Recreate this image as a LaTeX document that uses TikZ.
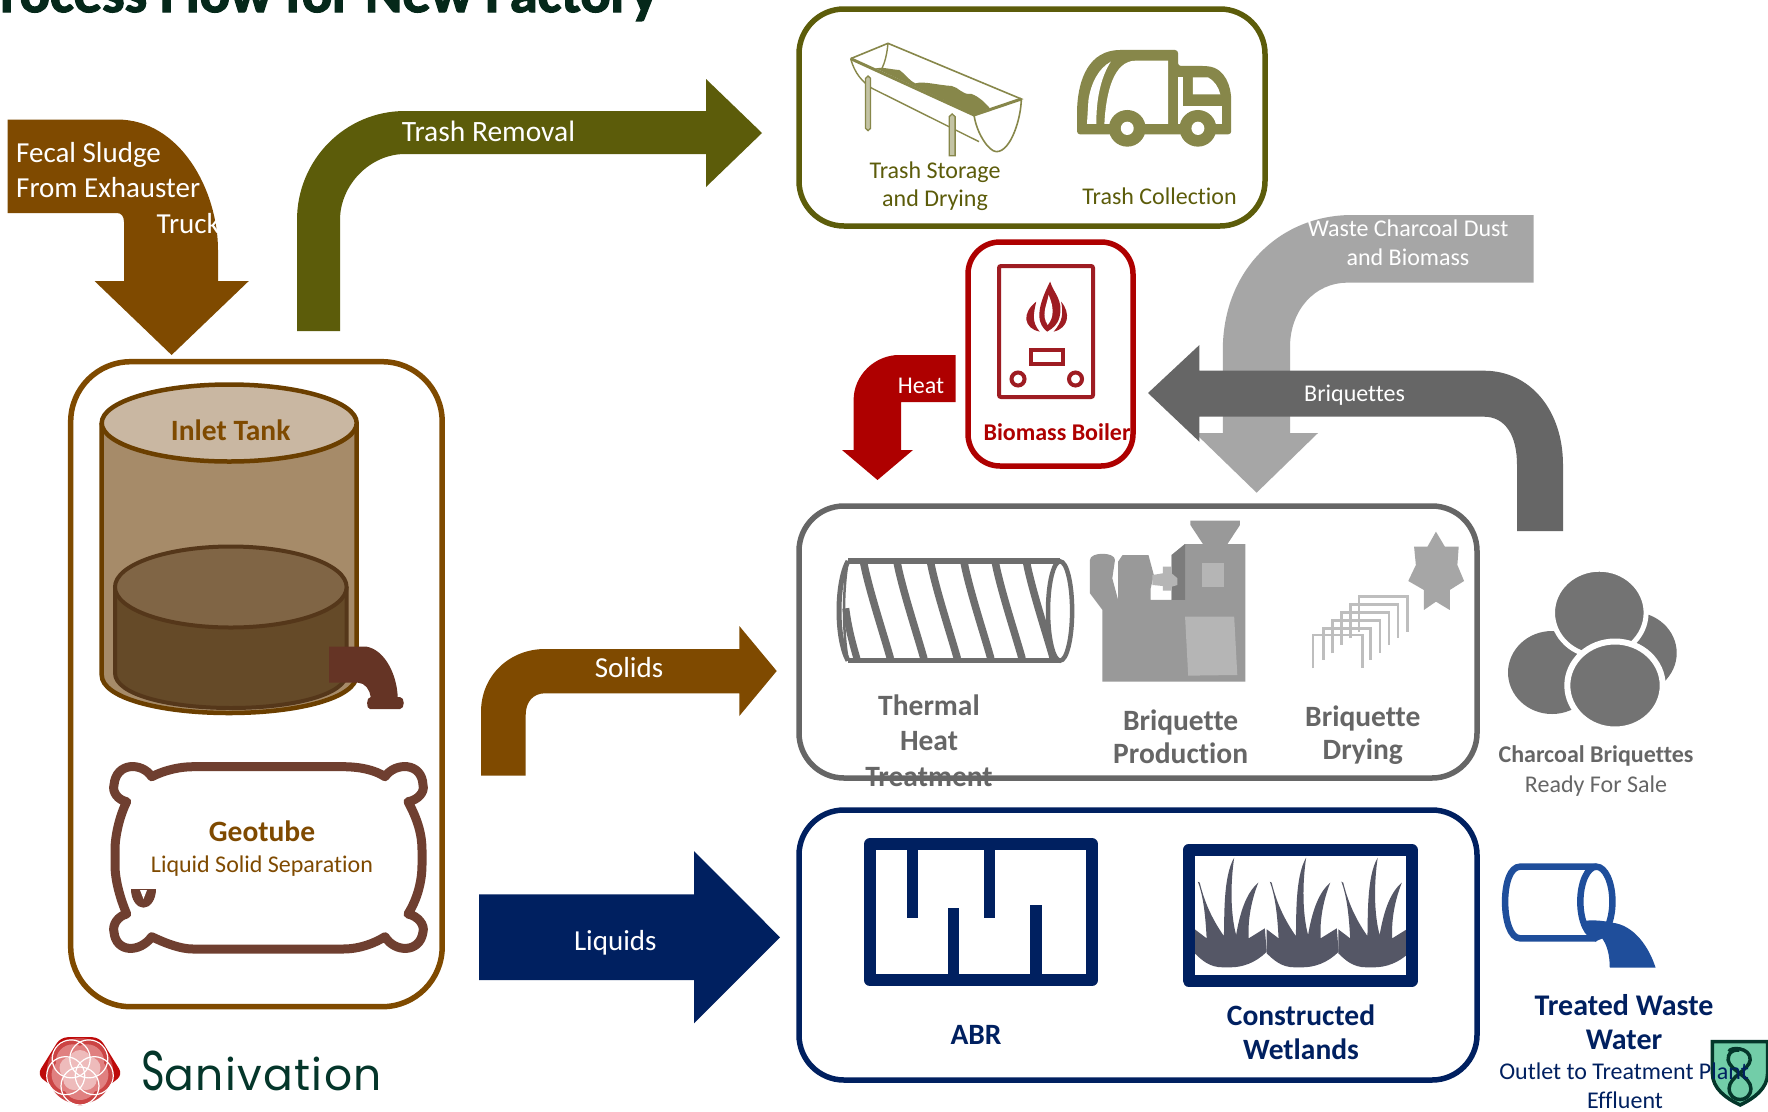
\documentclass[tikz,border=0pt]{standalone}
\usepackage{fontspec}
\setmainfont{Carlito}[Ligatures=NoCommon]
\newfontfamily\logofont{Poppins}
\newfontfamily\titlefont{Carlito Bold}[Ligatures=NoCommon,FakeBold=2.2]
\definecolor{brownA}{HTML}{7F4A00}
\definecolor{oliveA}{HTML}{5C5C0A}
\definecolor{oliveB}{HTML}{87874A}
\definecolor{redA}{HTML}{AE0000}
\definecolor{redB}{HTML}{9E1C22}
\definecolor{grayL}{HTML}{A6A6A6}
\definecolor{grayD}{HTML}{666666}
\definecolor{grayS}{HTML}{6E6E6E}
\definecolor{grayM}{HTML}{999999}
\definecolor{grayK}{HTML}{B5B5B5}
\definecolor{grayC}{HTML}{737373}
\definecolor{navyA}{HTML}{002060}
\definecolor{pipeB}{HTML}{1F4E9B}
\definecolor{darkG}{HTML}{04362A}
\definecolor{titleC}{HTML}{05281A}
\definecolor{pillowC}{HTML}{6F3F30}
\definecolor{tankBody}{HTML}{A68B69}
\definecolor{tankTop}{HTML}{C9B7A2}
\definecolor{tankLine}{HTML}{6B3F00}
\definecolor{mudTop}{HTML}{806545}
\definecolor{mudBody}{HTML}{654A28}
\definecolor{mudLine}{HTML}{55371A}
\definecolor{faucetC}{HTML}{653425}
\definecolor{grassC}{HTML}{555766}
\definecolor{shieldC}{HTML}{72CDA8}
\definecolor{flowA}{HTML}{BE0A0A}
\definecolor{flowB}{HTML}{CC4444}
\definecolor{flowC}{HTML}{E08080}
\definecolor{flowD}{HTML}{EEBBBB}
\tikzset{
 pbox/.style={draw,line width=5.5pt,rounded corners=#1,fill=none,inner sep=0pt,outer sep=0pt,anchor=north west},
 flowtxt/.style={text=white,font=\fontsize{29}{31}\selectfont,inner sep=0pt,anchor=center},
 smalltxt/.style={text=white,font=\fontsize{24}{26}\selectfont,inner sep=0pt,anchor=center},
 lbl/.style={inner sep=0pt,anchor=center,font=\fontsize{24}{26}\selectfont},
 blbl/.style={inner sep=0pt,anchor=center,font=\fontsize{29.5}{31}\selectfont\bfseries},
}
\begin{document}
\begin{tikzpicture}[x=1pt,y=-1pt]
\useasboundingbox (0,0) rectangle (1768,1111);
\fill[white] (0,0) rectangle (1768,1111);
% title
\node[anchor=base west,inner sep=0pt,text=titleC,font=\titlefont\fontsize{56.5}{58}\selectfont] (title) at (-30,12) {Process Flow for New Factory};
% fecal sludge arrow
\fill[brownA] (7.5,119.5) -- (117,119.5) .. controls (180,119.5) and (218,190) .. (218,250) -- (218,281) -- (248.8,281) -- (171.6,355) -- (94.5,281) -- (124,281) -- (124,222) .. controls (124,216) and (121,213) .. (117,213) -- (7.5,213) -- cycle;
\node[flowtxt,anchor=west] (fs1) at (16,155) {Fecal Sludge};
\node[flowtxt,anchor=west] (fs2) at (16,188) {From Exhauster};
\node[flowtxt,anchor=east] (fs3) at (220,224) {Truck};
% trash arrow
\fill[oliveA] (297,331) -- (297,220) .. controls (297,160) and (345,111) .. (405,111) -- (706,111) -- (706,79) -- (762,133) -- (706,187) -- (706,154) -- (405,154) .. controls (370,154) and (340,185) .. (340,220) -- (340,331) -- cycle;
\node[flowtxt,font=\fontsize{29.5}{31}\selectfont] (trashr) at (488.5,131) {Trash Removal};
% trash box
\node[pbox=45pt,draw=oliveA,minimum width=466pt,minimum height=217pt] (trashbox) at (799,9) {};
\begin{scope}[shift={(780,0)},x=0.4975pt,y=-0.3333pt]
 % trough
 \fill[oliveB] (192,205) .. controls (205,200) and (220,208) .. (240,210) .. controls (252,222) and (258,240) .. (272,250) .. controls (290,243) and (315,255) .. (345,258) .. controls (360,262) and (365,285) .. (385,282) .. controls (400,290) and (410,305) .. (422,325) -- (390,342) -- cycle;
 \draw[oliveB,line width=1.6pt] (142,176) -- (217,130) -- (485,297) -- (390,345);
 \draw[oliveB,line width=3pt] (142,176) -- (390,345) -- (485,297);
 \draw[oliveB,line width=1.4pt] (142,176) .. controls (150,220) and (165,245) .. (185,265);
 \draw[oliveB,line width=1.4pt] (185,265) -- (400,425);
 \draw[oliveB,line width=1.4pt] (217,130) .. controls (215,165) and (210,190) .. (205,205);
 \draw[oliveB,line width=1.6pt] (390,345) .. controls (395,400) and (420,455) .. (435,455) .. controls (465,455) and (485,350) .. (485,297);
 \draw[oliveB,line width=1.3pt,fill=oliveB!50] (172,235) -- (177,228) -- (182,235) -- (182,385) -- (177,392) -- (172,385) -- cycle;
 \draw[oliveB,line width=1.3pt,fill=oliveB!50] (340,350) -- (346,342) -- (352,350) -- (352,467) -- (340,467) -- cycle;
 % truck
 \fill[oliveB,rounded corners=3pt] (597,403) -- (597,330) .. controls (600,240) and (620,150) .. (690,150) -- (800,150) -- (800,198) -- (855,198) .. controls (895,205) and (907,260) .. (907,310) -- (907,403) -- cycle;
 \fill[white] (617,372) -- (620,300) .. controls (625,250) and (640,205) .. (665,185) .. controls (645,230) and (635,300) .. (636,372) -- cycle;
 \fill[white] (652,372) .. controls (655,280) and (670,182) .. (715,182) -- (780,182) -- (780,372) -- cycle;
 \fill[white] (800,318) -- (888,318) -- (888,372) -- (800,372) -- cycle;
 \fill[white] (800,232) -- (810,232) -- (810,318) -- (800,318) -- cycle;
 \fill[white] (830,232) -- (860,232) .. controls (872,240) and (882,262) .. (885,283) -- (830,283) -- cycle;
 \fill[oliveB] (698,385) ellipse[x radius=37,y radius=55];
 \fill[white] (698,385) ellipse[x radius=13,y radius=20];
 \fill[oliveB] (840,385) ellipse[x radius=37,y radius=55];
 \fill[white] (840,385) ellipse[x radius=13,y radius=20];
\end{scope}
\node[lbl,text=oliveA] (ts1) at (935,172) {Trash Storage};
\node[lbl,text=oliveA] (ts2) at (935,200) {and Drying};
\node[lbl,text=oliveA] (tc) at (1159.6,196) {Trash Collection};
% waste charcoal arrow
\fill[grayL] (1533.7,215) -- (1533.7,282.7) -- (1347,282.7) .. controls (1315,282.7) and (1290,310) .. (1290,347) -- (1290,433) -- (1318,433) -- (1256.6,492.7) -- (1195,433) -- (1222.8,433) -- (1222.8,350) .. controls (1222.8,270) and (1280,215) .. (1352,215) -- cycle;
\node[smalltxt] (wc1) at (1408,228) {Waste Charcoal Dust};
\node[smalltxt] (wc2) at (1408,257.5) {and Biomass};
% briquettes arrow
\fill[grayD] (1148,393) -- (1199.4,345) -- (1199.4,370.7) -- (1484,370.7) .. controls (1530,370.7) and (1563,410) .. (1563,465) -- (1563,531) -- (1517,531) -- (1517,465) .. controls (1517,435) and (1505,416.7) .. (1484,416.7) -- (1199.4,416.7) -- (1199.4,441.7) -- cycle;
\node[smalltxt] (br) at (1354.6,395) {Briquettes};
% boiler
\node[pbox=32pt,draw=redA,minimum width=165pt,minimum height=224pt] (boiler) at (968,242) {};
\draw[redB,line width=4pt,rounded corners=2pt] (999,266) rectangle (1093,397);
\draw[redB,line width=4pt] (1031,350) rectangle (1063,364);
\draw[redB,line width=4pt] (1018,379) circle (6.5);
\draw[redB,line width=4pt] (1075.5,379) circle (6.5);
\begin{scope}[shift={(780,0)},x=0.4975pt,y=-0.3333pt]
 \fill[redB] (543,845) .. controls (550,880) and (570,900) .. (562,950) .. controls (558,975) and (548,985) .. (537,995) .. controls (520,975) and (510,940) .. (543,845) -- cycle;
 \fill[white] (540,885) .. controls (535,920) and (525,945) .. (538,975) .. controls (552,950) and (550,920) .. (540,885) -- cycle;
 \fill[redB] (515,905) .. controls (485,940) and (490,985) .. (522,995) .. controls (505,965) and (510,940) .. (515,905) -- cycle;
 \fill[redB] (565,905) .. controls (585,940) and (580,985) .. (550,995) .. controls (568,965) and (570,940) .. (565,905) -- cycle;
\end{scope}
\node[inner sep=0pt,text=redA,font=\fontsize{24}{26}\selectfont\bfseries] (bb) at (1057,431.7) {Biomass Boiler};
% heat arrow
\fill[redA] (955.6,355) -- (955.6,402) -- (901,402) -- (901,450) -- (913,450) -- (877.5,480) -- (842,450) -- (853.6,450) -- (853.6,400) .. controls (853.6,375) and (875,355) .. (899,355) -- cycle;
\node[smalltxt] (heat) at (921,386) {Heat};
% left box
\node[pbox=60pt,draw=brownA,minimum width=371.5pt,minimum height=645pt] (procbox) at (70.7,361.7) {};
% tank
\draw[fill=tankBody,draw=tankLine,line width=4.5pt] (101.7,423) -- (101.7,675) .. controls (101.7,698) and (160,713) .. (229,713) .. controls (298,713) and (356.7,698) .. (356.7,675) -- (356.7,423);
\draw[fill=tankTop,draw=tankLine,line width=4.5pt] (229.2,423) ellipse[x radius=127.5,y radius=38.5];
\draw[fill=mudBody,draw=mudLine,line width=4pt] (115,587) -- (115,673) .. controls (115,695) and (170,708) .. (231,708) .. controls (292,708) and (346.7,695) .. (346.7,673) -- (346.7,587);
\draw[fill=mudTop,draw=mudLine,line width=4pt] (230.8,587) ellipse[x radius=115.8,y radius=40.5];
\node[blbl,text=brownA] (inlet) at (230.7,430) {Inlet Tank};
% faucet
\fill[faucetC] (329,646.7) -- (366.7,646.7) .. controls (385,650) and (397,675) .. (397.7,697) -- (400,697) .. controls (405,697) and (405,709) .. (400,709) -- (370,709) .. controls (366,709) and (366,697) .. (370.7,697) .. controls (370,690) and (365,682.7) .. (358,682.7) -- (329,682.7) -- cycle;
% geotube
\draw[pillowC,line width=9pt,line join=round] (151.7,776.7) .. controls (165,770) and (180,766.7) .. (193,766.7) -- (343,766.7) .. controls (360,766.7) and (375,770) .. (385,776.7)
 .. controls (395,762) and (422,762) .. (423,785) .. controls (425,792) and (418,800) .. (408,801.7)
 .. controls (418,820) and (422,835) .. (422,850) -- (422,865) .. controls (422,880) and (418,898) .. (408,914)
 .. controls (418,916) and (425,925) .. (423,932) .. controls (420,953) and (395,953) .. (385,936.7)
 .. controls (375,943) and (360,949) .. (343,949) -- (193,949) .. controls (180,949) and (165,943) .. (151.7,936.7)
 .. controls (140,953) and (116,953) .. (114,932) .. controls (112,925) and (118,916) .. (126.7,914)
 .. controls (120,898) and (115,880) .. (115,865) -- (115,850) .. controls (115,835) and (120,815) .. (126.7,801.7)
 .. controls (118,800) and (112,792) .. (114,785) .. controls (116,762) and (142,762) .. (151.7,776.7) -- cycle;
\fill[pillowC] (131,889) -- (156,889) .. controls (156,900) and (150,907.7) .. (143.5,907.7) .. controls (137,907.7) and (131,900) .. (131,889) -- cycle;
\fill[white] (140,890) -- (147,890) -- (143.5,899) -- cycle;
\node[blbl,text=brownA] (geo) at (262,831) {Geotube};
\node[lbl,text=brownA] (lss) at (262,866) {Liquid Solid Separation};
% solids arrow
\fill[brownA] (481,775.7) -- (481,712) .. controls (481,675) and (510,649) .. (545,649) -- (739.3,649) -- (739.3,626) -- (776.7,671) -- (739.3,716) -- (739.3,693.3) -- (545,693.3) .. controls (533,693.3) and (525.7,702) .. (525.7,715) -- (525.7,775.7) -- cycle;
\node[flowtxt] (solids) at (629,668) {Solids};
% liquids arrow
\fill[navyA] (479,894.3) -- (694,894.3) -- (694,851) -- (780,937.3) -- (694,1023.3) -- (694,980) -- (479,980) -- cycle;
\node[flowtxt] (liquids) at (615.3,942.5) {Liquids};
% gray box
\begin{scope}[shift={(790,500)},x=0.4464pt,y=-0.3333pt]
 % screw
 \fill[white] (130,183) -- (605,183) -- (605,482) -- (130,482) -- cycle;
 \foreach \t/\b in {165/225,240/300,315/375,390/450,460/520,530/590}
  \draw[grayS,line width=7.5pt] (\t,188) .. controls ({\t+12},270) and ({\b-16},400) .. (\b,476);
 \draw[grayS,line width=7pt] (125,325) .. controls (130,380) and (140,430) .. (150,476);
 \draw[grayS,line width=5.5pt] (130,183) -- (605,183) (130,482) -- (605,482);
 \draw[grayS,line width=5pt] (130,183) .. controls (103,250) and (103,415) .. (130,482);
 \draw[grayS,line width=2.5pt] (130,183) .. controls (118,260) and (118,405) .. (130,482);
 \draw[grayS,line width=4.5pt,fill=white] (605,333) ellipse[x radius=27,y radius=149];
 % press
 \fill[grayM] (700,545) -- (700,330) -- (672,280) -- (672,180) .. controls (672,155) and (728,155) .. (728,180) -- (722,235) -- (735,300) -- (735,185) -- (745,165) -- (803,165) -- (815,225) -- (808,265) -- (808,300) -- (855,300) -- (855,165) -- (885,132) -- (925,132) -- (897,75) -- (897,62) -- (1008,62) -- (1008,75) -- (980,132) -- (1020,132) -- (1020,545) -- cycle;
 \fill[grayS!90!white] (855,165) -- (885,132) -- (885,300) -- (855,300) -- cycle;
 \fill[grayK] (812,225) -- (835,220) -- (835,200) -- (855,200) -- (855,220) -- (868,235) -- (868,255) -- (855,260) -- (855,272) -- (835,272) -- (835,258) -- (812,255) -- cycle;
 \fill[grayK] (923,190) rectangle (973,262);
 \fill[grayK] (885,350) -- (995,350) -- (1002,525) -- (892,527) -- cycle;
 % racks
 \foreach \l/\r/\u/\d in {1172/1282/405/505,1195/1300/385/480,1215/1322/362/460,1235/1342/337/435,1255/1362/313/415,1275/1383/290/395}
  \draw[grayS!45!white,line width=2.6pt] (\l,\d) -- (\l,\u) -- (\r,\u) -- (\r,\d);
 % star
 \fill[grayL] (1447,95) -- (1467,140) -- (1498,140) -- (1495,195) -- (1510,243) -- (1478,270) -- (1478,330) -- (1447,305) -- (1420,330) -- (1420,270) -- (1385,243) -- (1402,195) -- (1398,140) -- (1428,140) -- cycle;
\end{scope}
\node[blbl,text=grayD] (th1) at (929,705.7) {Thermal};
\node[blbl,text=grayD] (th2) at (929,741) {Heat};
\node[blbl,text=grayD] (th3) at (929,776.7) {Treatment};
\node[blbl,text=grayD] (bp1) at (1180.6,722) {Briquette};
\node[blbl,text=grayD] (bp2) at (1180.6,753.5) {Production};
\node[blbl,text=grayD] (bd1) at (1362.8,718) {Briquette};
\node[blbl,text=grayD] (bd2) at (1362.8,751.5) {Drying};
\node[pbox=45pt,draw=grayD,minimum width=678pt,minimum height=272pt] (solidbox) at (799,506) {};
% charcoal briquettes
\fill[grayC] (1632.7,653) ellipse[x radius=44,y radius=41];
\fill[grayC] (1552,672.5) ellipse[x radius=44,y radius=41.5];
\draw[white,line width=5pt,fill=grayC] (1599.3,612.7) ellipse[x radius=46.8,y radius=43.5];
\draw[white,line width=6pt,fill=grayC] (1615,685.5) ellipse[x radius=47.7,y radius=44];
\node[inner sep=0pt,text=grayD,font=\fontsize{24}{26}\selectfont\bfseries] (cb1) at (1596,756) {Charcoal Briquettes};
\node[lbl,text=grayD] (cb2) at (1596,786) {Ready For Sale};
% liquid box
\node[pbox=45pt,draw=navyA,minimum width=678pt,minimum height=270pt] (liqbox) at (799,810) {};
\begin{scope}[shift={(840,810)},x=0.3827pt,y=-0.3333pt]
 % ABR
 \draw[navyA,line width=12pt,line join=round] (78,103) rectangle (659,510);
 \fill[navyA] (175,110) rectangle (205,323);
 \fill[navyA] (375,110) rectangle (405,323);
 \fill[navyA] (282,295) rectangle (312,500);
 \fill[navyA] (497,285) rectangle (527,500);
 % wetlands
 \foreach \d in {0,188,375}{
  \begin{scope}[xshift=\d*0.3827pt]
  \fill[grassC] (927,358) -- (958,385) .. controls (955,320) and (950,260) .. (935,215) -- (940,218) .. controls (955,290) and (980,340) .. (1003,378) .. controls (1005,330) and (1000,200) .. (1030,143) .. controls (1020,220) and (1020,310) .. (1035,375) .. controls (1045,310) and (1060,250) .. (1093,218) .. controls (1075,270) and (1065,330) .. (1068,385) -- (1110,355) -- (1115,425) .. controls (1085,460) and (1050,472) .. (1020,472) -- (1000,472) .. controls (965,472) and (945,450) .. (927,430) -- cycle;
  \end{scope}
 }
 \draw[navyA,line width=12pt,line join=round] (911,120) rectangle (1494,512);
\end{scope}
\node[blbl,text=navyA] (abr) at (976,1035) {ABR};
\node[blbl,text=navyA] (cw1) at (1301,1015.7) {Constructed};
\node[blbl,text=navyA] (cw2) at (1301,1049) {Wetlands};
% pipe
\begin{scope}[shift={(1480,840)},x=0.3344pt,y=-0.3333pt]
 \draw[pipeB,line width=6.5pt] (348,80) -- (120,80) .. controls (90,80) and (75,130) .. (75,185) .. controls (75,240) and (90,295) .. (120,295) -- (348,295);
 \draw[pipeB,line width=6.5pt] (348,185) ellipse[x radius=48,y radius=105];
 \fill[pipeB] (308,243) .. controls (330,240) and (360,240) .. (395,248) .. controls (460,255) and (505,320) .. (525,383) -- (388,383) .. controls (388,345) and (380,315) .. (365,295) -- (345,305) .. controls (330,290) and (315,270) .. (308,243) -- cycle;
 % shield
 \draw[darkG,fill=shieldC,line width=3.5pt,line join=miter] (695,605) -- (860,605) -- (860,700) .. controls (860,745) and (820,775) .. (778,795) .. controls (735,775) and (695,745) .. (695,700) -- cycle;
 \draw[darkG,line width=3.5pt] (745,635) .. controls (745,620) and (810,620) .. (808,660) .. controls (805,690) and (745,710) .. (745,745) .. controls (745,790) and (810,790) .. (810,745) .. controls (810,710) and (745,690) .. (742,660) .. controls (742,640) and (750,630) .. (775,630);
\end{scope}
\node[inner sep=0pt,text=navyA,font=\fontsize{30}{32}\selectfont\bfseries] (tw1) at (1624,1005) {Treated Waste};
\node[inner sep=0pt,text=navyA,font=\fontsize{30}{32}\selectfont\bfseries] (tw2) at (1624,1040) {Water};
\node[lbl,text=navyA] (ol1) at (1624,1071) {Outlet to Treatment Plant};
\node[lbl,text=navyA] (ol2) at (1625,1100) {Effluent};
% logo
\begin{scope}[shift={(80,1071)}]
 \fill[flowA,rounded corners=7pt] (90:37) -- (175:43) -- (240:39) -- (300:39) -- (5:43) -- cycle;
 \fill[flowB] (0,0) circle (33);
 \foreach \a in {18,90,162,234,306} \fill[flowC] (\a:12) circle (17);
 \foreach \a in {54,126,198,270,342} \fill[flowD] (\a:10) circle (11);
 \foreach \a in {18,90,162,234,306} \draw[white,line width=1.2pt] (\a:15) circle (19);
\end{scope}
\node[anchor=base west,inner sep=0pt,text=darkG,font=\logofont\fontsize{44}{46}\selectfont] (sanlogo) at (141,1090) {\fontsize{56}{58}\selectfont\scalebox{0.72}[1]{S}\fontsize{44}{46}\selectfont\addfontfeature{LetterSpace=3}anivation};
\end{tikzpicture}
\end{document}
